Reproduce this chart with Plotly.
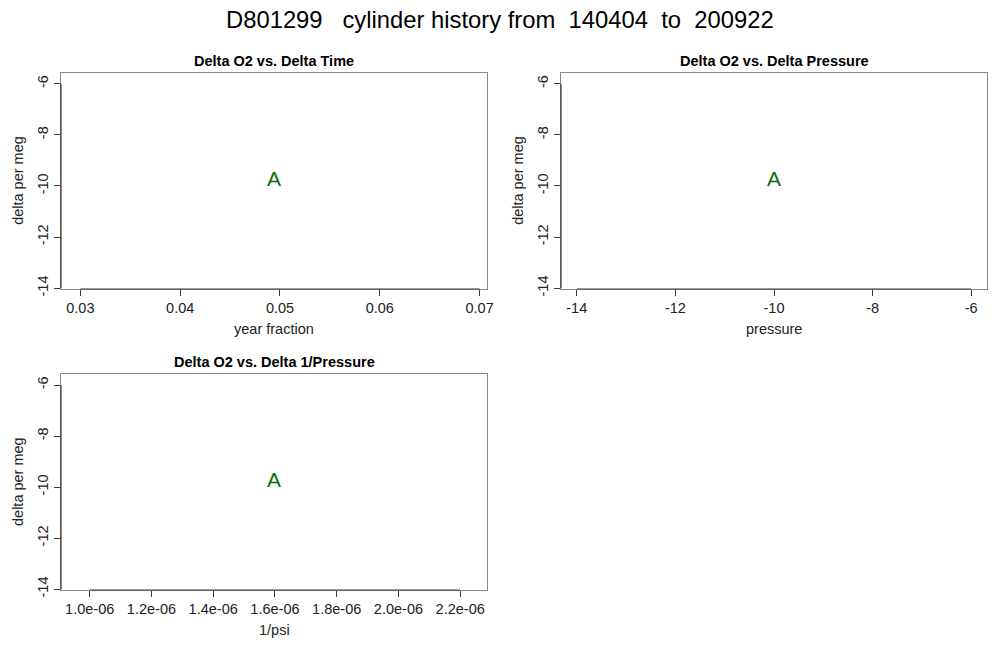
import plotly.graph_objects as go

# single cylinder point (delta O2 against the three deltas)
d_o2 = [-9.8]
d_time = [0.0494]
d_press = [-10.0]
d_inv_press = [1.597e-06]
point_label = ["A"]

y_ticks = [-14, -12, -10, -8, -6]
y_tick_text = ["-14", "-12", "-10", "-8", "-6"]
time_ticks = [0.03, 0.04, 0.05, 0.06, 0.07]
time_tick_text = ["0.03", "0.04", "0.05", "0.06", "0.07"]
press_ticks = [-14, -12, -10, -8, -6]
press_tick_text = ["-14", "-12", "-10", "-8", "-6"]
inv_ticks = [1.0e-06, 1.2e-06, 1.4e-06, 1.6e-06, 1.8e-06, 2.0e-06, 2.2e-06]
inv_tick_text = ["1.0e-06", "1.2e-06", "1.4e-06", "1.6e-06", "1.8e-06", "2.0e-06", "2.2e-06"]

panel_titles = ["Delta O2 vs. Delta Time", "Delta O2 vs. Delta Pressure", "Delta O2 vs. Delta 1/Pressure"]
x_titles = ["year fraction", "pressure", "1/psi"]
y_title = "delta per meg"
main_title = "D801299   cylinder history from  140404  to  200922"

FONT = "Liberation Sans, Arial, Helvetica, sans-serif"
BOX = "#8a8a8a"
AXIS = "#3a3a3a"
# page body has an 8px margin, so the figure is shrunk to fit the window
OFF = 8
W, H = 1000 - 2 * OFF, 670 - 2 * OFF


def px_x(px):
    return (px - OFF) / W


def px_y(py):
    return 1 - (py - OFF) / H


def r_lim(vals):
    # mimic R's default limits for a single point: +-40%, then 4% padding
    v = vals[0]
    lo, hi = sorted([v - 0.4 * abs(v), v + 0.4 * abs(v)])
    pad = 0.04 * (hi - lo)
    return [lo - pad, hi + pad]


xs = [d_time, d_press, d_inv_press]
x_tick_sets = [(time_ticks, time_tick_text), (press_ticks, press_tick_text), (inv_ticks, inv_tick_text)]
x_domains = [[px_x(61), px_x(487)], [px_x(561), px_x(987)], [px_x(61), px_x(487)]]
y_domains = [[px_y(289), px_y(72.7)], [px_y(289), px_y(72.7)], [px_y(590), px_y(374)]]

fig = go.Figure()
layout = {}
shapes = []
annotations = []

for i in range(3):
    n = "" if i == 0 else str(i + 1)
    fig.add_trace(go.Scatter(
        x=xs[i], y=d_o2, mode="text", text=point_label,
        textposition="middle center",
        textfont=dict(family=FONT, size=21, color="#0a6e0a"),
        xaxis="x" + n, yaxis="y" + n, showlegend=False, hoverinfo="skip",
    ))
    tv, tt = x_tick_sets[i]
    layout["xaxis" + n] = dict(
        domain=x_domains[i], anchor="y" + n, range=r_lim(xs[i]),
        tickmode="array", tickvals=tv, ticktext=tt,
        ticks="outside", ticklen=6, tickcolor=AXIS,
        showline=True, mirror=True, linecolor=BOX, linewidth=1,
        showgrid=False, zeroline=False, automargin=False,
        tickfont=dict(family=FONT, size=14.5, color="#222"),
    )
    layout["yaxis" + n] = dict(
        domain=y_domains[i], anchor="x" + n, range=r_lim(d_o2),
        tickmode="array", tickvals=y_ticks, ticktext=y_tick_text, tickangle=-90,
        ticks="outside", ticklen=6, tickcolor=AXIS,
        showline=True, mirror=True, linecolor=BOX, linewidth=1,
        showgrid=False, zeroline=False, automargin=False,
        tickfont=dict(family=FONT, size=14.5, color="#222"),
    )
    # darker axis lines running from first to last tick, like R's axis()
    shapes.append(dict(type="line", xref="x" + n, yref="y" + n + " domain",
                       x0=tv[0], x1=tv[-1], y0=0, y1=0, line=dict(color=AXIS, width=1.2)))
    shapes.append(dict(type="line", xref="x" + n + " domain", yref="y" + n,
                       x0=0, x1=0, y0=y_ticks[0], y1=y_ticks[-1], line=dict(color=AXIS, width=1.2)))
    xc = sum(x_domains[i]) / 2
    yc = sum(y_domains[i]) / 2
    annotations.append(dict(
        text="<b>" + panel_titles[i] + "</b>", xref="paper", yref="paper",
        x=xc, y=y_domains[i][1] + 12 / H,
        xanchor="center", yanchor="middle", showarrow=False,
        font=dict(family=FONT, size=14.5, color="#000"),
    ))
    annotations.append(dict(
        text=x_titles[i], xref="paper", yref="paper",
        x=xc, y=y_domains[i][0] - 40 / H,
        xanchor="center", yanchor="middle", showarrow=False,
        font=dict(family=FONT, size=14.5, color="#222"),
    ))
    annotations.append(dict(
        text=y_title, xref="paper", yref="paper", textangle=-90,
        x=x_domains[i][0] - 43 / W, y=yc,
        xanchor="center", yanchor="middle", showarrow=False,
        font=dict(family=FONT, size=14.5, color="#222"),
    ))

annotations.append(dict(
    text=main_title, xref="paper", yref="paper", x=px_x(500), y=px_y(19),
    xanchor="center", yanchor="middle", showarrow=False,
    font=dict(family=FONT, size=23.8, color="#000"),
))

fig.update_layout(
    width=W, height=H,
    margin=dict(l=0, r=0, t=0, b=0),
    paper_bgcolor="white", plot_bgcolor="white",
    shapes=shapes, annotations=annotations,
    **layout,
)

fig.write_html("out.html")
